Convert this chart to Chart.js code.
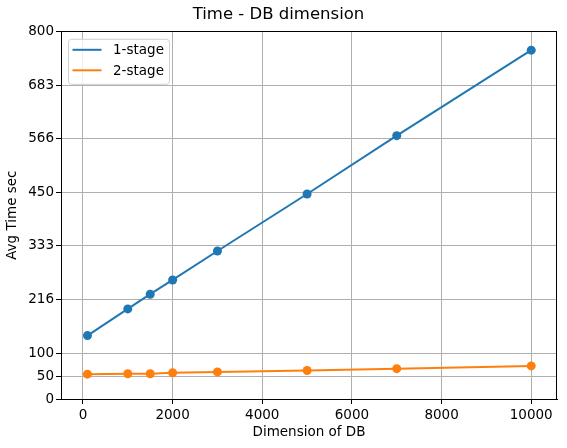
<!DOCTYPE html>
<html>
<head>
<meta charset="utf-8">
<script src="https://cdn.jsdelivr.net/npm/chart.js@4.4.0/dist/chart.umd.min.js"></script>
<style>
    body { margin: 0; background: #fff; }
    canvas { display: block; }
</style>
</head>
<body>
<canvas id="timeChart" width="567" height="448"></canvas>
<script>
const dbSizes = [100, 1000, 1500, 2000, 3000, 5000, 7000, 10000];
const oneStage = [138, 196, 228, 259, 322, 446, 573, 759];
const twoStage = [54, 55, 55, 57, 59, 62, 66, 72];
const seriesNames = ['1-stage', '2-stage'];
const xTicks = [0, 2000, 4000, 6000, 8000, 10000];
const yTicks = [0, 50, 100, 216, 333, 450, 566, 683, 800];

const FONT = 'DejaVu Sans';

function toPoints(values) {
    return dbSizes.map((x, i) => ({ x: x, y: values[i] }));
}

// black frame round the plot, like matplotlib spines
const framePlugin = {
    id: 'frame',
    afterDraw(chart) {
        const a = chart.chartArea;
        const ctx = chart.ctx;
        ctx.save();
        ctx.strokeStyle = '#000';
        ctx.lineWidth = 1;
        ctx.strokeRect(Math.round(a.left) + 0.5, Math.round(a.top) + 0.5,
            Math.round(a.right - a.left) - 1, Math.round(a.bottom - a.top));
        ctx.restore();
    }
};

// legend box in upper left corner of the plot
const boxLegend = {
    id: 'boxLegend',
    afterDraw(chart) {
        const a = chart.chartArea;
        const ctx = chart.ctx;
        const x = a.left + 7, y = a.top + 7.5, w = 101, h = 45;
        ctx.save();
        ctx.fillStyle = 'rgba(255,255,255,0.8)';
        ctx.strokeStyle = '#d0d0d0';
        ctx.lineWidth = 1;
        ctx.beginPath();
        ctx.roundRect(x + 0.5, y + 0.5, w, h, 3);
        ctx.fill();
        ctx.stroke();
        ctx.font = '13.5px ' + FONT;
        ctx.textBaseline = 'middle';
        ctx.fillStyle = '#000';
        chart.data.datasets.forEach((ds, i) => {
            const ly = y + 11 + i * 20.5;
            ctx.strokeStyle = ds.borderColor;
            ctx.lineWidth = 2;
            ctx.beginPath();
            ctx.moveTo(x + 4.5, ly);
            ctx.lineTo(x + 33.5, ly);
            ctx.stroke();
            ctx.fillText(ds.label, x + 45, ly + 1);
        });
        ctx.restore();
    }
};

new Chart(document.getElementById('timeChart').getContext('2d'), {
    type: 'line',
    data: {
        datasets: [{
            label: seriesNames[0],
            data: toPoints(oneStage),
            borderColor: '#1f77b4',
            backgroundColor: '#1f77b4',
            borderWidth: 2,
            pointRadius: 4.5,
            pointBorderWidth: 0,
            fill: false
        }, {
            label: seriesNames[1],
            data: toPoints(twoStage),
            borderColor: '#ff7f0e',
            backgroundColor: '#ff7f0e',
            borderWidth: 2,
            pointRadius: 4.5,
            pointBorderWidth: 0,
            fill: false
        }]
    },
    options: {
        responsive: false,
        animation: false,
        layout: { padding: { left: 0, right: 10, top: 0, bottom: 0 } },
        plugins: {
            legend: { display: false },
            tooltip: { enabled: false },
            title: {
                display: true,
                text: 'Time - DB dimension',
                color: '#000',
                font: { family: FONT, size: 16.5, weight: 'normal' },
                padding: { top: 5, bottom: 6.5 }
            }
        },
        scales: {
            x: {
                type: 'linear',
                min: -490,
                max: 10575,
                afterBuildTicks: scale => { scale.ticks = xTicks.map(v => ({ value: v })); },
                afterFit: scale => { scale.height = 49; },
                ticks: {
                    color: '#000',
                    padding: 3,
                    maxRotation: 0,
                    font: { family: FONT, size: 13.5 },
                    callback: v => String(v)
                },
                grid: { color: '#b0b0b0', lineWidth: 1, tickLength: 5, tickColor: '#000' },
                border: { color: '#000', width: 1 },
                title: {
                    display: true,
                    text: 'Dimension of DB',
                    color: '#000',
                    font: { family: FONT, size: 13.5 },
                    padding: { top: 0, bottom: 7 }
                }
            },
            y: {
                min: 0,
                max: 800,
                afterBuildTicks: scale => { scale.ticks = yTicks.map(v => ({ value: v })); },
                afterFit: scale => { scale.width = 61; },
                ticks: {
                    color: '#000',
                    padding: 2,
                    font: { family: FONT, size: 13.5 },
                    callback: v => String(v)
                },
                grid: { color: '#b0b0b0', lineWidth: 1, tickLength: 5, tickColor: '#000' },
                border: { color: '#000', width: 1 },
                title: {
                    display: true,
                    text: 'Avg Time sec',
                    color: '#000',
                    font: { family: FONT, size: 13.5 },
                    padding: { top: 4, bottom: 0 }
                }
            }
        }
    },
    plugins: [framePlugin, boxLegend]
});
</script>
</body>
</html>
